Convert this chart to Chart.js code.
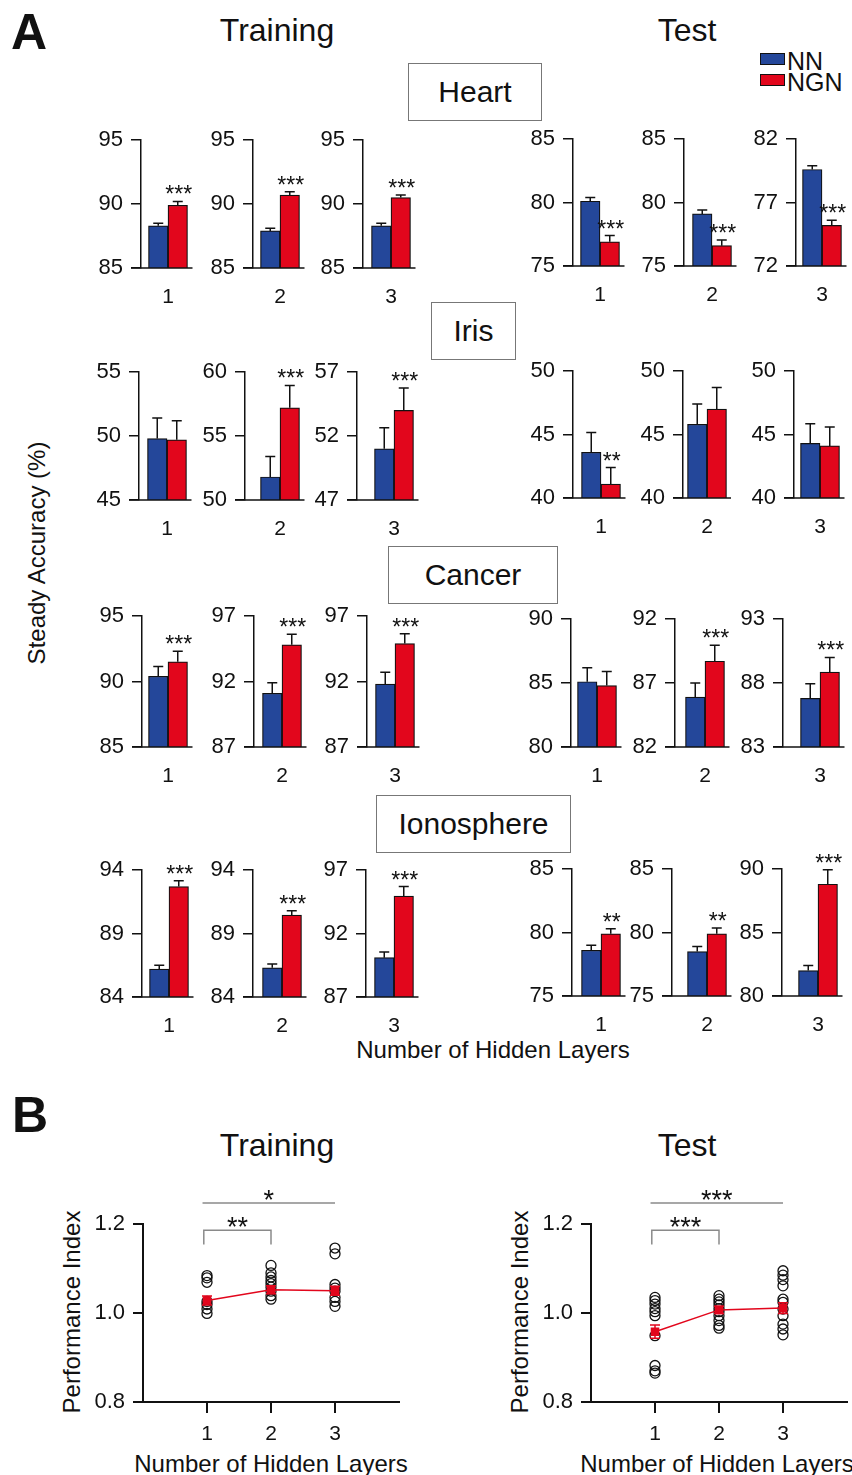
<!DOCTYPE html>
<html lang="en">
<head>
  <meta charset="UTF-8" />
  <title>NN vs NGN steady accuracy</title>
  <script src="https://cdn.jsdelivr.net/npm/chart.js"></script>
  <style>
    html, body { margin: 0; padding: 0; background: #fff; overflow: hidden; }
    body {
      width: 852px; height: 1475px; position: relative;
      font-family: "Liberation Sans", Arial, sans-serif; color: #111;
    }
    .t { position: absolute; transform: translate(-50%, -50%); white-space: nowrap; line-height: 1; }
    .rot { transform: translate(-50%, -50%) rotate(-90deg); }
    .box {
      position: absolute; border: 1px solid #777; box-sizing: border-box;
      display: flex; align-items: center; justify-content: center; font-size: 30px;
    }
    .key { position: absolute; width: 25px; height: 12px; border: 1.5px solid #111; box-sizing: border-box; }
    canvas { position: absolute; }
  </style>
</head>
<body>
  <div class="t" style="left:29px;top:32px;font-size:50px;font-weight:bold">A</div>
  <div class="t" style="left:277px;top:30px;font-size:32px">Training</div>
  <div class="t" style="left:687px;top:30px;font-size:32px">Test</div>

  <div class="key" style="left:760px;top:53px;background:#24479a"></div>
  <div class="key" style="left:760px;top:74px;background:#e2061c"></div>
  <div class="t" style="left:787px;top:61px;font-size:25px;transform:translate(0,-50%)">NN</div>
  <div class="t" style="left:787px;top:82px;font-size:25px;transform:translate(0,-50%)">NGN</div>

  <div class="box" style="left:408px;top:63px;width:134px;height:58px">Heart</div>
  <div class="box" style="left:431px;top:302px;width:85px;height:58px">Iris</div>
  <div class="box" style="left:388px;top:546px;width:170px;height:58px">Cancer</div>
  <div class="box" style="left:376px;top:795px;width:195px;height:58px">Ionosphere</div>

  <div class="t rot" style="left:37px;top:553px;font-size:24px">Steady Accuracy (%)</div>
  <div class="t" style="left:493px;top:1050px;font-size:24px">Number of Hidden Layers</div>

  <div class="t" style="left:30px;top:1115px;font-size:50px;font-weight:bold">B</div>
  <div class="t" style="left:277px;top:1145px;font-size:32px">Training</div>
  <div class="t" style="left:687px;top:1145px;font-size:32px">Test</div>
  <div class="t rot" style="left:72px;top:1312px;font-size:24px">Performance Index</div>
  <div class="t rot" style="left:520px;top:1312px;font-size:24px">Performance Index</div>
  <div class="t" style="left:271px;top:1464px;font-size:24px">Number of Hidden Layers</div>
  <div class="t" style="left:717px;top:1464px;font-size:24px">Number of Hidden Layers</div>

  <script>
    // ---- panel A data: Training layers 1-3, then Test layers 1-3 ----
    const layers = ['1', '2', '3'];

    const heartNN = [88.3, 87.9, 88.3, 80.1, 79.1, 79.6];
    const heartNNErr = [0.2, 0.2, 0.2, 0.3, 0.3, 0.3];
    const heartNGN = [89.9, 90.7, 90.5, 76.9, 76.6, 75.2];
    const heartNGNErr = [0.3, 0.25, 0.2, 0.5, 0.45, 0.4];
    const heartMin = [85, 85, 85, 75, 75, 72];
    const heartSig = ['***', '***', '***', '***', '***', '***'];

    const irisNN = [49.8, 51.8, 51.0, 43.6, 45.8, 44.3];
    const irisNNErr = [1.6, 1.6, 1.65, 1.55, 1.6, 1.55];
    const irisNGN = [49.7, 57.2, 54.0, 41.1, 47.0, 44.1];
    const irisNGNErr = [1.5, 1.75, 1.75, 1.3, 1.7, 1.5];
    const irisMin = [45, 50, 47, 40, 40, 40];
    const irisSig = ['', '***', '***', '**', '', ''];

    const cancerNN = [90.4, 91.1, 91.8, 85.1, 85.9, 86.8];
    const cancerNNErr = [0.75, 0.8, 0.9, 1.1, 1.1, 1.15];
    const cancerNGN = [91.5, 94.8, 94.9, 84.8, 88.7, 88.85];
    const cancerNGNErr = [0.8, 0.8, 0.75, 1.1, 1.25, 1.15];
    const cancerMin = [85, 87, 87, 80, 82, 83];
    const cancerSig = ['***', '***', '***', '', '***', '***'];

    const ionoNN = [86.2, 86.3, 90.1, 78.6, 78.5, 82.0];
    const ionoNNErr = [0.3, 0.3, 0.45, 0.4, 0.4, 0.4];
    const ionoNGN = [92.7, 90.45, 94.95, 79.9, 79.9, 88.8];
    const ionoNGNErr = [0.45, 0.35, 0.75, 0.4, 0.45, 1.15];
    const ionoMin = [84, 84, 87, 75, 75, 80];
    const ionoSig = ['***', '***', '***', '**', '**', '***'];

    // ---- panel B data: performance index per run ----
    const trainL1 = [1.084, 1.079, 1.069, 1.026, 1.019, 1.009, 0.999];
    const trainL2 = [1.107, 1.090, 1.081, 1.073, 1.066, 1.058, 1.049, 1.039, 1.031];
    const trainL3 = [1.146, 1.133, 1.064, 1.056, 1.049, 1.035, 1.026, 1.015];
    const trainMean = [1.028, 1.052, 1.050];
    const trainMeanErr = [0.01, 0.009, 0.01];
    const trainSig = ['**', '*'];

    const testL1 = [1.035, 1.028, 1.020, 1.010, 1.003, 0.994, 0.949, 0.882, 0.870, 0.865];
    const testL2 = [1.039, 1.031, 1.025, 1.018, 1.010, 1.003, 0.994, 0.983, 0.972, 0.966];
    const testL3 = [1.095, 1.085, 1.075, 1.061, 1.031, 1.024, 1.009, 0.994, 0.975, 0.964, 0.951];
    const testMean = [0.958, 1.007, 1.011];
    const testMeanErr = [0.015, 0.008, 0.012];
    const testSig = ['***', '***'];

    const BLUE = '#24479a';
    const RED = '#e2061c';
    const INK = '#111';
    const FONT = '"Liberation Sans", Arial, sans-serif';
    Chart.defaults.font.family = FONT;
    Chart.defaults.color = INK;

    // where each small panel sits: [axis x, bar centre x, top y, baseline y]
    const rowBoxes = [
      [[141, 168, 140, 268], [253, 280, 140, 268], [363, 391, 140, 268], [573, 600, 139, 266], [684, 712, 139, 266], [796, 822, 139, 266]],
      [[139, 167, 372, 500], [245, 280, 372, 500], [357, 394, 372, 500], [573, 601, 371, 498], [683, 707, 371, 498], [794, 820, 371, 498]],
      [[142, 168, 616, 747], [254, 282, 616, 747], [367, 395, 616, 747], [571, 597, 619, 747], [675, 705, 619, 747], [783, 820, 619, 747]],
      [[142, 169, 870, 997], [253, 282, 870, 997], [366, 394, 870, 997], [572, 601, 869, 996], [672, 707, 869, 996], [782, 818, 869, 996]]
    ];

    // vertical error bars, upward only for bars, both ways for means
    const errorBars = {
      id: 'errorBars',
      afterDatasetsDraw(chart) {
        const ctx = chart.ctx, y = chart.scales.y;
        ctx.save();
        chart.data.datasets.forEach((ds, i) => {
          if (!ds.errs) return;
          ctx.strokeStyle = ds.errColor || INK;
          ctx.lineWidth = 1.5;
          chart.getDatasetMeta(i).data.forEach((el, j) => {
            const d = ds.data[j];
            const v = typeof d === 'object' ? d.y : d;
            const top = y.getPixelForValue(v + ds.errs[j]);
            const bot = ds.both ? y.getPixelForValue(v - ds.errs[j]) : el.y;
            ctx.beginPath();
            ctx.moveTo(el.x, bot); ctx.lineTo(el.x, top);
            ctx.moveTo(el.x - 5, top); ctx.lineTo(el.x + 5, top);
            if (ds.both) { ctx.moveTo(el.x - 5, bot); ctx.lineTo(el.x + 5, bot); }
            ctx.stroke();
          });
        });
        ctx.restore();
      }
    };

    // baseline stops just past the red bar, like the original
    const baseline = {
      id: 'baseline',
      afterDatasetsDraw(chart) {
        const { ctx, chartArea } = chart;
        const el = chart.getDatasetMeta(1).data[0];
        ctx.save();
        ctx.strokeStyle = INK;
        ctx.lineWidth = 1.5;
        ctx.beginPath();
        ctx.moveTo(chartArea.left - 10, chartArea.bottom);
        ctx.lineTo(el.x + el.width / 2 + 5, chartArea.bottom);
        ctx.stroke();
        ctx.restore();
      }
    };

    function starPlugin(text) {
      return {
        id: 'stars',
        afterDatasetsDraw(chart) {
          if (!text) return;
          const ds = chart.data.datasets[1];
          const el = chart.getDatasetMeta(1).data[0];
          const top = chart.scales.y.getPixelForValue(ds.data[0] + ds.errs[0]);
          const ctx = chart.ctx;
          ctx.save();
          ctx.fillStyle = INK;
          ctx.font = '23px ' + FONT;
          ctx.textAlign = 'center';
          ctx.textBaseline = 'alphabetic';
          ctx.fillText(text, el.x + 1, top + 1);
          ctx.restore();
        }
      };
    }

    function miniChart(box, label, nn, nnErr, ngn, ngnErr, min, sig) {
      const [ax, cx, top, bottom] = box;
      const padTop = 34, yW = 50, xH = 40;
      const canvas = document.createElement('canvas');
      canvas.width = yW + 2 * (cx - ax);
      canvas.height = padTop + (bottom - top) + xH;
      canvas.style.left = (ax - yW) + 'px';
      canvas.style.top = (top - padTop) + 'px';
      document.body.appendChild(canvas);
      new Chart(canvas, {
        type: 'bar',
        data: {
          labels: [label],
          datasets: [
            { label: 'NN', data: [nn], errs: [nnErr], backgroundColor: BLUE, borderColor: INK, borderWidth: 1.2, barThickness: 19.5 },
            { label: 'NGN', data: [ngn], errs: [ngnErr], backgroundColor: RED, borderColor: INK, borderWidth: 1.2, barThickness: 19.5 }
          ]
        },
        options: {
          responsive: false,
          animation: false,
          layout: { padding: { top: padTop, left: 0, right: 0, bottom: 0 } },
          plugins: { legend: { display: false }, tooltip: { enabled: false } },
          scales: {
            x: {
              grid: { display: false, drawTicks: false },
              border: { display: false },
              ticks: { font: { size: 21 }, padding: 17 },
              afterFit: s => { s.height = xH; }
            },
            y: {
              min: min, max: min + 10,
              afterBuildTicks: s => { s.ticks = [min, min + 5, min + 10].map(v => ({ value: v })); },
              grid: { drawOnChartArea: false, color: INK, lineWidth: 1.5, tickLength: 10 },
              border: { color: INK, width: 1.5 },
              ticks: { font: { size: 22 }, padding: 8 },
              afterFit: s => { s.width = yW; }
            }
          }
        },
        plugins: [baseline, errorBars, starPlugin(sig)]
      });
    }

    const rows = [
      [heartNN, heartNNErr, heartNGN, heartNGNErr, heartMin, heartSig],
      [irisNN, irisNNErr, irisNGN, irisNGNErr, irisMin, irisSig],
      [cancerNN, cancerNNErr, cancerNGN, cancerNGNErr, cancerMin, cancerSig],
      [ionoNN, ionoNNErr, ionoNGN, ionoNGNErr, ionoMin, ionoSig]
    ];
    rows.forEach((r, ri) => {
      for (let k = 0; k < 6; k++) {
        miniChart(rowBoxes[ri][k], layers[k % 3], r[0][k], r[1][k], r[2][k], r[3][k], r[4][k], r[5][k]);
      }
    });

    // ---- panel B ----
    function brackets(labels) {
      // first label: bracket between layer 1 and 2, second: line across 1 to 3
      return {
        id: 'brackets',
        afterDraw(chart) {
          const { ctx, scales: { x, y } } = chart;
          const marks = [[0.95, 2, 1.186, 1.154, labels[0]], [0.93, 3, 1.247, null, labels[1]]];
          ctx.save();
          ctx.strokeStyle = '#8a8a8a';
          ctx.lineWidth = 1.5;
          ctx.fillStyle = INK;
          ctx.font = '27px ' + FONT;
          ctx.textAlign = 'center';
          marks.forEach(([a, b, yv, leg, text]) => {
            const x1 = x.getPixelForValue(a), x2 = x.getPixelForValue(b), yy = y.getPixelForValue(yv);
            ctx.beginPath();
            if (leg !== null) {
              const yl = y.getPixelForValue(leg);
              ctx.moveTo(x1, yl); ctx.lineTo(x1, yy); ctx.lineTo(x2, yy); ctx.lineTo(x2, yl);
            } else {
              ctx.moveTo(x1, yy); ctx.lineTo(x2, yy);
            }
            ctx.stroke();
            ctx.fillText(text, (x1 + x2) / 2, yy + 6);
          });
          ctx.restore();
        }
      };
    }

    function perfChart(axisX, runs, mean, meanErr, sig) {
      const padTop = 60, yW = 93, xH = 75, right = 8;
      const canvas = document.createElement('canvas');
      canvas.width = yW + 256 + right;
      canvas.height = padTop + 178 + xH;
      canvas.style.left = (axisX - yW) + 'px';
      canvas.style.top = (1224 - padTop) + 'px';
      document.body.appendChild(canvas);

      const runPts = [];
      runs.forEach((vals, i) => vals.forEach(v => runPts.push({ x: i + 1, y: v })));
      const meanPts = mean.map((v, i) => ({ x: i + 1, y: v }));

      new Chart(canvas, {
        type: 'scatter',
        data: {
          datasets: [
            {
              data: meanPts, errs: meanErr, both: true, errColor: RED,
              showLine: true, borderColor: RED, borderWidth: 1.5,
              pointStyle: 'rect', pointRadius: 5, pointBackgroundColor: RED, pointBorderColor: RED
            },
            {
              data: runPts, pointStyle: 'circle', pointRadius: 5,
              pointBackgroundColor: 'rgba(255,255,255,0)', pointBorderColor: INK, pointBorderWidth: 1.3
            }
          ]
        },
        options: {
          responsive: false,
          animation: false,
          layout: { padding: { top: padTop, left: 0, right: right, bottom: 0 } },
          plugins: { legend: { display: false }, tooltip: { enabled: false } },
          scales: {
            x: {
              type: 'linear', min: 0, max: 4,
              afterBuildTicks: s => { s.ticks = [1, 2, 3].map(v => ({ value: v })); },
              grid: { drawOnChartArea: false, color: INK, lineWidth: 2, tickLength: 11 },
              border: { color: INK, width: 2 },
              ticks: { font: { size: 21 }, padding: 9, callback: v => String(v) },
              afterFit: s => { s.height = xH; }
            },
            y: {
              min: 0.8, max: 1.2,
              afterBuildTicks: s => { s.ticks = [0.8, 1.0, 1.2].map(v => ({ value: v })); },
              grid: { drawOnChartArea: false, color: INK, lineWidth: 2, tickLength: 10 },
              border: { color: INK, width: 2 },
              ticks: { font: { size: 22 }, padding: 8, callback: v => v.toFixed(1) },
              afterFit: s => { s.width = yW; }
            }
          }
        },
        plugins: [errorBars, brackets(sig)]
      });
    }

    perfChart(143, [trainL1, trainL2, trainL3], trainMean, trainMeanErr, trainSig);
    perfChart(591, [testL1, testL2, testL3], testMean, testMeanErr, testSig);
  </script>
</body>
</html>
